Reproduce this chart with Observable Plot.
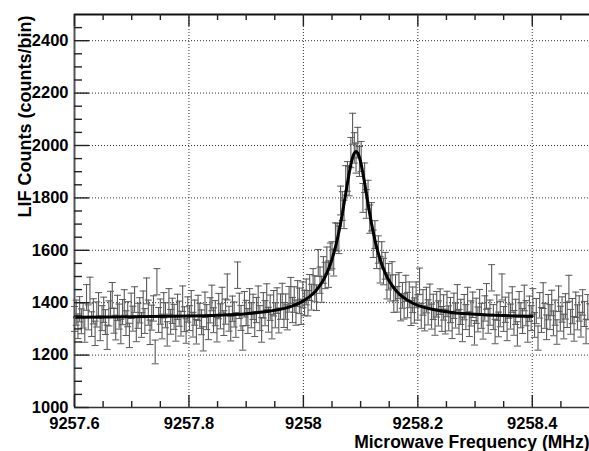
<!DOCTYPE html>
<html><head><meta charset="utf-8">
<script src="https://cdn.jsdelivr.net/npm/d3@7"></script>
<script src="https://cdn.jsdelivr.net/npm/@observablehq/plot@0.6"></script>
<style>html,body{margin:0;padding:0;background:#fff;overflow:hidden}</style>
</head><body><div id="chart"></div>
<script>
// ---- data ----
const freqStart = 9257.6;   // MHz, first bin centre
const freqStep = 0.003;     // MHz per bin
const counts = [
1338,1362,1310,1375,1329,1351,1296,1420,1344,1448,
1318,1367,1283,1355,1390,1302,1341,1373,1326,1268,
1359,1395,1428,1331,1305,1380,1347,1290,1364,1401,
1322,1356,1275,1388,1339,1412,1298,1350,1371,1315,
1396,1330,1445,1362,1287,1343,1378,1212,1480,1334,
1366,1309,1390,1352,1281,1405,1327,1369,1346,1300,
1384,1358,1320,1415,1337,1292,1374,1341,1398,1316,
1362,1289,1380,1350,1325,1262,1392,1345,1306,1371,
1418,1333,1360,1297,1387,1348,1410,1322,1366,1460,
1339,1301,1377,1355,1315,1505,1388,1342,1265,1394,
1361,1330,1405,1352,1384,1318,1372,1415,1341,1296,
1390,1360,1423,1335,1381,1309,1398,1352,1408,1332,
1385,1425,1353,1385,1344,1413,1447,1372,1412,1362,
1435,1407,1365,1430,1399,1441,1398,1458,1421,1480,
1453,1419,1552,1486,1451,1525,1504,1561,1509,1576,
1581,1553,1652,1650,1640,1790,1769,1737,1867,1882,
1864,1973,2064,1991,1952,2011,1939,1958,1800,1877,
1777,1812,1719,1728,1625,1660,1582,1603,1526,1581,
1519,1541,1464,1499,1456,1506,1412,1457,1413,1465,
1379,1428,1386,1455,1391,1430,1361,1411,1370,1430,
1382,1482,1350,1401,1340,1410,1363,1422,1347,1384,
1323,1394,1359,1404,1338,1382,1328,1395,1340,1372,
1310,1388,1351,1420,1327,1365,1298,1383,1345,1410,
1318,1359,1392,1285,1369,1336,1402,1350,1308,1378,
1424,1331,1362,1495,1345,1290,1381,1317,1356,1460,
1338,1373,1302,1389,1347,1412,1323,1365,1281,1394,
1352,1330,1418,1360,1296,1377,1341,1405,1315,1368,
1265,1390,1334,1427,1350,1306,1383,1345,1399,1321,
1362,1288,1415,1339,1374,1309,1386,1353,1455,1327,
1368,1300,1392,1344,1378,1316,1401,1357,1290,1383,
1348
];
const errScale = 1.3; // error bar = errScale * sqrt(counts)

const fitFreq = [
9257.600,9257.700,9257.800,9257.850,9257.900,9257.950,9257.980,9258.000,
9258.020,9258.032,9258.038,9258.044,9258.050,9258.056,9258.062,9258.068,
9258.074,9258.077,9258.080,9258.083,9258.086,9258.089,9258.092,9258.095,
9258.098,9258.101,9258.104,9258.107,9258.110,9258.116,9258.122,9258.128,
9258.134,9258.140,9258.146,9258.152,9258.164,9258.182,9258.200,9258.230,
9258.260,9258.300,9258.350,9258.400
];
const fitCounts = [
1344,1346,1349,1352,1358,1371,1387,1407,
1441,1476,1499,1529,1566,1612,1670,1739,
1817,1857,1894,1928,1954,1971,1977,1971,
1954,1928,1894,1857,1817,1739,1670,1612,
1566,1529,1499,1476,1441,1409,1390,1373,
1363,1356,1351,1348
];

const xDomain = [9257.6, 9258.5];
const yDomain = [1000, 2500];
const xTicks = [9257.6, 9257.8, 9258, 9258.2, 9258.4];
const xMinorTicks = [9257.65, 9257.7, 9257.75, 9257.85, 9257.9, 9257.95, 9258.05, 9258.1, 9258.15, 9258.25, 9258.3, 9258.35, 9258.45];
const yTicks = [1000, 1200, 1400, 1600, 1800, 2000, 2200, 2400];
const yMinorTicks = [1050,1100,1150,1250,1300,1350,1450,1500,1550,1650,1700,1750,1850,1900,1950,2050,2100,2150,2250,2300,2350,2450];
const xTitle = "Microwave Frequency (MHz)";
const yTitle = "LIF Counts (counts/bin)";

// ---- build ----
const W = 589, H = 451, mL = 74, mR = 0, mT = 14, mB = 44;
const pw = W - mL - mR, ph = H - mT - mB;
const barColor = "#595959";
const data = counts.map((c, i) => {
  const e = errScale * Math.sqrt(c);
  return {freq: freqStart + i * freqStep, count: c, lo: c - e, hi: c + e};
});
const fit = fitFreq.map((f, i) => ({freq: f, count: fitCounts[i]}));
const capSymbol = {draw(ctx) { ctx.moveTo(-3.5, 0); ctx.lineTo(3.5, 0); }};
const font = "'Liberation Sans', Arial, Helvetica, sans-serif";

const chart = Plot.plot({
  width: W, height: H,
  marginLeft: mL, marginRight: mR, marginTop: mT, marginBottom: mB,
  x: {domain: xDomain, label: null},
  y: {domain: yDomain, label: null},
  style: {fontFamily: font, background: "#fff", color: "#000"},
  marks: [
    Plot.gridX({ticks: xTicks, stroke: "#333", strokeOpacity: 1, strokeDasharray: "1,2"}),
    Plot.gridY({ticks: yTicks, stroke: "#333", strokeOpacity: 1, strokeDasharray: "1,2"}),
    Plot.ruleX(data, {x: "freq", y1: "lo", y2: "hi", stroke: barColor, strokeWidth: 1.1}),
    Plot.dot(data, {x: "freq", y: "lo", symbol: capSymbol, stroke: barColor, strokeWidth: 1, fill: "none"}),
    Plot.dot(data, {x: "freq", y: "hi", symbol: capSymbol, stroke: barColor, strokeWidth: 1, fill: "none"}),
    Plot.line(fit, {x: "freq", y: "count", stroke: "#000", strokeWidth: 3, curve: "catmull-rom"}),
    Plot.ruleX([xDomain[0]], {stroke: "#555", strokeWidth: 2}),
    Plot.ruleY([yDomain[0]], {stroke: "#333", strokeWidth: 1.6}),
    Plot.ruleY([yDomain[1]], {stroke: "#111", strokeWidth: 2}),
    Plot.tickY(yTicks, {y: d => d, insetRight: pw - 15, stroke: "#222", strokeWidth: 1.4}),
    Plot.tickY(yMinorTicks, {y: d => d, insetRight: pw - 8, stroke: "#222", strokeWidth: 1.4}),
    Plot.tickX(xTicks, {x: d => d, insetTop: ph - 12, stroke: "#222", strokeWidth: 1.4}),
    Plot.tickX(xMinorTicks, {x: d => d, insetTop: ph - 6, stroke: "#222", strokeWidth: 1.4}),
    Plot.tickX(xTicks, {x: d => d, insetBottom: ph - 12, stroke: "#222", strokeWidth: 1.4}),
    Plot.tickX(xMinorTicks, {x: d => d, insetBottom: ph - 6, stroke: "#222", strokeWidth: 1.4}),
    Plot.axisY({ticks: yTicks, tickSize: 0, tickPadding: 6, tickFormat: d => String(d), fontSize: 16.5, fontWeight: "bold", label: null}),
    Plot.axisX({ticks: xTicks, tickSize: 0, tickPadding: 10, tickFormat: d => String(d), fontSize: 16.5, fontWeight: "bold", label: null}),
    Plot.text([xTitle], {text: d => d, frameAnchor: "bottom-right", dy: 40, lineAnchor: "bottom", textAnchor: "end", fontSize: 17.5, fontWeight: "bold"}),
    Plot.text([yTitle], {text: d => d, frameAnchor: "top-left", rotate: -90, dx: -44, dy: 1, lineAnchor: "bottom", textAnchor: "end", fontSize: 18, fontWeight: "bold"})
  ]
});
document.getElementById("chart").appendChild(chart);
</script>
</body></html>
